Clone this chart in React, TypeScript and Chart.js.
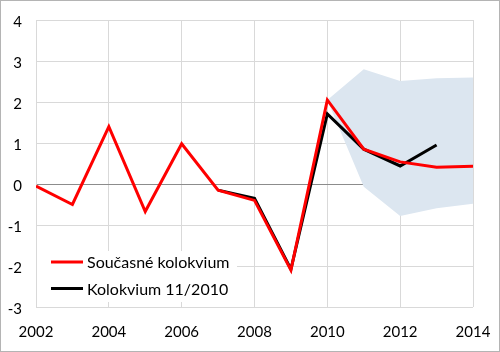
import React, { useEffect, useRef } from "react";
import { Chart, registerables } from "chart.js";

Chart.register(...registerables);

const years = [2002, 2003, 2004, 2005, 2006, 2007, 2008, 2009, 2010, 2011, 2012, 2013, 2014];
const currentValues = [-0.05, -0.5, 1.4, -0.67, 0.98, -0.15, -0.4, -2.1, 2.05, 0.85, 0.54, 0.41, 0.43];
const previousYears = [2007, 2008, 2009, 2010, 2011, 2012, 2013];
const previousValues = [-0.15, -0.35, -2.08, 1.71, 0.85, 0.44, 0.95];
const bandYears = [2010, 2011, 2012, 2013, 2014];
const bandUpper = [2.05, 2.8, 2.51, 2.58, 2.6];
const bandLower = [2.05, -0.07, -0.78, -0.59, -0.48];
const legendLabels = ["Současné kolokvium", "Kolokvium 11/2010"];
const legendColors = ["#ff0000", "#000000"];

const FONT = "Lato, 'Liberation Sans', sans-serif";

const pts = (xs: number[], ys: number[]) => xs.map((x, i) => ({ x, y: ys[i] }));

const decorPlugin = {
  id: "decor",
  afterDatasetsDraw(chart: any) {
    const ctx = chart.ctx;
    const area = chart.chartArea;
    ctx.save();
    const bx = area.left + 1;
    const by = area.bottom - 56;
    ctx.fillStyle = "#ffffff";
    ctx.fillRect(bx, by, 200, 51);
    ctx.font = "16px " + FONT;
    ctx.textBaseline = "middle";
    ctx.textAlign = "left";
    legendLabels.forEach((label, i) => {
      const y = by + 11 + i * 26.5;
      ctx.strokeStyle = legendColors[i];
      ctx.lineWidth = 3;
      ctx.beginPath();
      ctx.moveTo(bx + 14, y);
      ctx.lineTo(bx + 46, y);
      ctx.stroke();
      ctx.fillStyle = "#000000";
      ctx.fillText(label, bx + 50, y + 1);
    });
    ctx.restore();
  },
  afterDraw(chart: any) {
    const ctx = chart.ctx;
    ctx.save();
    ctx.strokeStyle = "#b4b4b4";
    ctx.lineWidth = 1;
    ctx.strokeRect(0.5, 0.5, chart.width - 1, chart.height - 1);
    ctx.restore();
  },
};

export default function App() {
  const ref = useRef<HTMLCanvasElement | null>(null);

  useEffect(() => {
    document.body.style.margin = "0";
    const canvas = ref.current;
    if (!canvas) return;
    const chart = new Chart(canvas, {
      type: "line",
      data: {
        datasets: [
          {
            label: legendLabels[0],
            data: pts(years, currentValues),
            borderColor: "#ff0000",
            borderWidth: 3,
            pointRadius: 0,
            fill: false,
            order: 0,
          },
          {
            label: legendLabels[1],
            data: pts(previousYears, previousValues),
            borderColor: "#000000",
            borderWidth: 3,
            pointRadius: 0,
            fill: false,
            order: 1,
          },
          {
            label: "upper",
            data: pts(bandYears, bandUpper),
            borderWidth: 0,
            borderColor: "rgba(0,0,0,0)",
            backgroundColor: "#dce6f0",
            pointRadius: 0,
            fill: "+1",
            order: 2,
          },
          {
            label: "lower",
            data: pts(bandYears, bandLower),
            borderWidth: 0,
            borderColor: "rgba(0,0,0,0)",
            pointRadius: 0,
            fill: false,
            order: 3,
          },
        ],
      },
      options: {
        responsive: false,
        animation: false,
        devicePixelRatio: 1,
        layout: { padding: { top: 20, right: 27, left: 0, bottom: 0 } },
        plugins: { legend: { display: false }, tooltip: { enabled: false } },
        scales: {
          x: {
            type: "linear",
            min: 2002,
            max: 2014,
            afterFit: (s: any) => {
              s.height = 45;
              s.paddingLeft = 0;
              s.paddingRight = 0;
            },
            ticks: {
              stepSize: 2,
              padding: 16,
              color: "#000000",
              font: { family: FONT, size: 15 },
              callback: (v: any) => String(v),
            },
            grid: {
              color: "#d9d9d9",
              lineWidth: 1,
              drawTicks: false,
            },
            border: { display: false },
          },
          y: {
            min: -3,
            max: 4,
            afterFit: (s: any) => {
              s.width = 36;
              s.paddingTop = 0;
              s.paddingBottom = 0;
            },
            ticks: {
              stepSize: 1,
              padding: 14,
              labelOffset: 2,
              color: "#000000",
              font: { family: FONT, size: 15 },
            },
            grid: {
              color: (c: any) => (c.tick && c.tick.value === 0 ? "#8c8c8c" : "#d9d9d9"),
              lineWidth: 1,
              drawTicks: false,
            },
            border: { display: true, color: "#d9d9d9" },
          },
        },
      },
      plugins: [decorPlugin],
    });
    return () => chart.destroy();
  }, []);

  return (
    <div style={{ width: 500, height: 352, background: "#ffffff" }}>
      <canvas ref={ref} width={500} height={352} style={{ display: "block" }} />
    </div>
  );
}
